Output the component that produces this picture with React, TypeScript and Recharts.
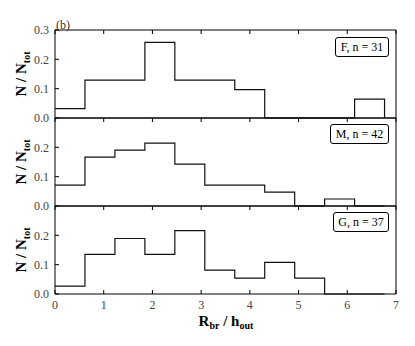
import { LineChart, Line, XAxis, YAxis } from "recharts";

// bin edges of R_br / h_out
const binEdges = [0, 0.615, 1.23, 1.845, 2.46, 3.075, 3.69, 4.305, 4.92, 5.535, 6.15, 6.765];

// counts per bin
const countsF = [1, 4, 4, 8, 4, 4, 3, 0, 0, 0, 2];
const countsM = [3, 7, 8, 9, 6, 3, 3, 2, 0, 1, 0];
const countsG = [1, 5, 7, 5, 8, 3, 2, 4, 2, 0, 0];

const panelNames = ["F, n = 31", "M, n = 42", "G, n = 37"];
const panelTotals = [31, 42, 37];

const xTicks = [0, 1, 2, 3, 4, 5, 6, 7];

const FONT = "'Liberation Serif', 'DejaVu Serif', serif";

const buildSteps = (counts: number[], total: number) => {
  const pts = counts.map((c, i) => ({ x: binEdges[i], y: c / total }));
  pts.push({ x: binEdges[binEdges.length - 1], y: 0 });
  return pts;
};

const tickStyle = { fontSize: 12, fontFamily: FONT, fill: "#444" };

interface PanelProps {
  counts: number[];
  total: number;
  top: number;
  showX: boolean;
  yTicks: number[];
}

const Panel = ({ counts, total, top, showX, yTicks }: PanelProps) => {
  const data = buildSteps(counts, total);
  return (
    <div style={{ position: "absolute", left: 0, top }}>
      <LineChart width={415} height={128} data={data} margin={{ top: 0, right: 0, bottom: 0, left: 0 }}>
        <XAxis
          dataKey="x"
          type="number"
          domain={[0, 7]}
          ticks={xTicks}
          interval={0}
          height={30}
          tickSize={-4}
          tickMargin={10}
          tick={showX ? tickStyle : false}
          tickLine={{ stroke: "#000" }}
          axisLine={{ stroke: "#000" }}
        />
        <XAxis
          xAxisId="top"
          orientation="top"
          dataKey="x"
          type="number"
          domain={[0, 7]}
          ticks={xTicks}
          interval={0}
          height={10}
          tickSize={-4}
          tickFormatter={() => ""}
          tickLine={{ stroke: "#000" }}
          axisLine={{ stroke: "#000" }}
        />
        <YAxis
          type="number"
          domain={[0, 0.3]}
          ticks={yTicks}
          interval={0}
          width={55}
          tickSize={-4}
          tickMargin={10}
          tick={tickStyle}
          tickFormatter={(v: number) => v.toFixed(1)}
          tickLine={{ stroke: "#000" }}
          axisLine={{ stroke: "#000" }}
        />
        <YAxis
          yAxisId="right"
          orientation="right"
          type="number"
          domain={[0, 0.3]}
          ticks={[0.1, 0.2]}
          interval={0}
          width={19}
          tickSize={-4}
          tickFormatter={() => ""}
          tickLine={{ stroke: "#000" }}
          axisLine={{ stroke: "#000" }}
        />
        <Line
          type="stepAfter"
          dataKey="y"
          stroke="#111"
          strokeWidth={1.2}
          dot={false}
          isAnimationActive={false}
        />
      </LineChart>
    </div>
  );
};

const yLabel = (cy: number, key: string) => (
  <text
    key={key}
    transform={`translate(26, ${cy}) rotate(-90)`}
    textAnchor="middle"
    fontFamily={FONT}
    fontWeight="bold"
    fontSize={15}
    fill="#000"
  >
    N / N
    <tspan fontSize={10} dy={4}>tot</tspan>
  </text>
);

const legendBox = (label: string, left: number, top: number, width: number) => (
  <div
    key={label}
    style={{
      position: "absolute",
      left,
      top,
      width,
      height: 20,
      boxSizing: "border-box",
      border: "1px solid #000",
      borderRadius: 3,
      background: "#fff",
      fontFamily: FONT,
      fontSize: 12,
      display: "flex",
      alignItems: "center",
      justifyContent: "center",
      color: "#000",
    }}
  >
    {label}
  </div>
);

export default function App() {
  return (
    <div style={{ position: "absolute", left: 0, top: 0, width: 415, height: 346, background: "#fff" }}>
      <Panel counts={countsF} total={panelTotals[0]} top={20} showX={false} yTicks={[0, 0.1, 0.2, 0.3]} />
      <Panel counts={countsM} total={panelTotals[1]} top={108} showX={false} yTicks={[0, 0.1, 0.2]} />
      <Panel counts={countsG} total={panelTotals[2]} top={196} showX={true} yTicks={[0, 0.1, 0.2]} />
      <svg width={415} height={346} style={{ position: "absolute", left: 0, top: 0, pointerEvents: "none" }}>
        {yLabel(74, "a")}
        {yLabel(162, "b")}
        {yLabel(250, "c")}
        <text x={226} y={326} textAnchor="middle" fontFamily={FONT} fontWeight="bold" fontSize={15} fill="#000">
          R
          <tspan fontSize={10} dy={3}>br</tspan>
          <tspan dy={-3}> / h</tspan>
          <tspan fontSize={10} dy={3}>out</tspan>
        </text>
        <text x={56} y={29} fontFamily={FONT} fontSize={12} fill="#333">(b)</text>
      </svg>
      {legendBox(panelNames[0], 335, 37, 54)}
      {legendBox(panelNames[1], 330, 124, 59)}
      {legendBox(panelNames[2], 333, 212, 56)}
    </div>
  );
}
